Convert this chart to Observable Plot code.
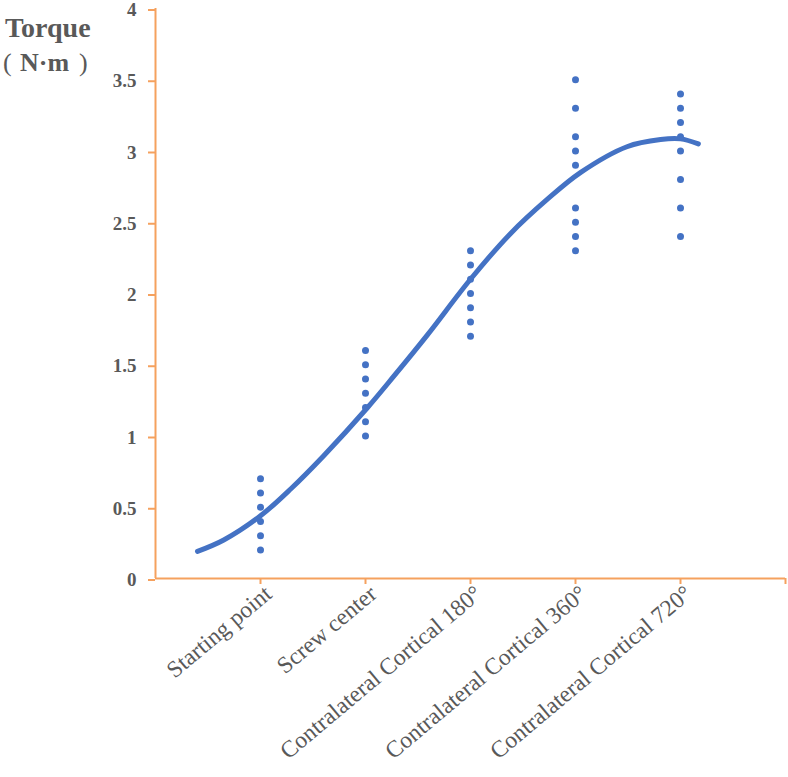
<!DOCTYPE html>
<html>
<head>
<meta charset="utf-8">
<script src="https://cdn.jsdelivr.net/npm/d3@7"></script>
<script src="https://cdn.jsdelivr.net/npm/@observablehq/plot@0.6"></script>
<style>
  html, body { margin: 0; padding: 0; background: #fff; }
  #chart { width: 788px; height: 777px; }
</style>
</head>
<body>
<div id="chart"></div>
<script>
// Insertion stages along the x axis (positions 1..5)
const categories = [
  "Starting point",
  "Screw center",
  "Contralateral Cortical 180°",
  "Contralateral Cortical 360°",
  "Contralateral Cortical 720°"
];

// Measured torque (N·m) at each stage
const torqueStarting = [0.7, 0.6, 0.5, 0.4, 0.3, 0.2];
const torqueScrewCenter = [1.6, 1.5, 1.4, 1.3, 1.2, 1.1, 1.0];
const torque180 = [2.3, 2.2, 2.1, 2.0, 1.9, 1.8, 1.7];
const torque360 = [3.5, 3.3, 3.1, 3.0, 2.9, 2.6, 2.5, 2.4, 2.3];
const torque720 = [3.4, 3.3, 3.2, 3.1, 3.0, 2.8, 2.6, 2.4];

// Fitted trend line (position in stage units, torque)
const trendPos = [0.40, 0.65, 1.00, 1.29, 1.60, 2.02, 2.27, 2.59, 3.00, 3.38, 3.73, 4.05, 4.49, 4.81, 5.00, 5.17];
const trendTorque = [0.19, 0.27, 0.44, 0.63, 0.86, 1.20, 1.42, 1.71, 2.10, 2.42, 2.66, 2.85, 3.03, 3.08, 3.085, 3.05];

// Y axis ticks
const yTicks = [0, 0.5, 1, 1.5, 2, 2.5, 3, 3.5, 4];
// X axis tick positions (one per stage plus the right end)
const xTicks = [1, 2, 3, 4, 5, 6];

const series = [torqueStarting, torqueScrewCenter, torque180, torque360, torque720];
const points = series.flatMap((vals, i) => vals.map(v => ({pos: i + 1, torque: v})));
const trend = trendPos.map((p, i) => ({pos: p, torque: trendTorque[i]}));

const blue = "#4472c4";
const orange = "#f5a15e";
const gray = "#595959";
const serif = "'Liberation Serif', 'Times New Roman', serif";

const chart = Plot.plot({
  width: 788,
  height: 777,
  marginLeft: 155,
  marginRight: 3,
  marginTop: 8,
  marginBottom: 199,
  style: {background: "#fff", fontFamily: serif},
  x: {domain: [0, 6]},
  y: {domain: [0, 4]},
  marks: [
    Plot.axisY({
      ticks: yTicks,
      tickFormat: d => String(d),
      tickSize: 7,
      tickPadding: 12,
      dy: 1.5,
      stroke: orange,
      strokeWidth: 2,
      strokeOpacity: 1,
      fill: gray,
      fontSize: 19,
      fontWeight: "bold",
      label: null
    }),
    // tick marks only
    Plot.axisX({
      ticks: xTicks,
      tickFormat: () => "",
      tickSize: 6,
      stroke: orange,
      strokeWidth: 2,
      strokeOpacity: 1,
      label: null
    }),
    // rotated stage labels
    Plot.axisX({
      ticks: xTicks,
      tickFormat: d => categories[d - 1] ?? "",
      tickSize: 0,
      tickPadding: 12,
      tickRotate: -40,
      dx: 8,
      dy: 0,
      fill: gray,
      fontSize: 23.5,
      label: null
    }),
    Plot.ruleX([0], {stroke: orange, strokeWidth: 2}),
    Plot.ruleY([0], {stroke: orange, strokeWidth: 2}),
    Plot.line(trend, {x: "pos", y: "torque", stroke: blue, strokeWidth: 5, curve: "catmull-rom"}),
    Plot.dot(points, {x: "pos", y: "torque", r: 3.5, fill: blue, stroke: null})
  ]
});

document.getElementById("chart").appendChild(chart);

// Y axis title in the top-left corner
const svg = d3.select(chart);
const title = svg.append("g")
  .attr("fill", gray)
  .attr("font-family", serif)
  .attr("text-anchor", "start");
title.append("text")
  .attr("x", 5).attr("y", 37)
  .attr("font-weight", "bold")
  .attr("font-size", 28)
  .text("Torque");
title.append("text")
  .attr("x", 3).attr("y", 71)
  .attr("font-size", 26)
  .text("(");
title.append("text")
  .attr("x", 20).attr("y", 71)
  .attr("font-weight", "bold")
  .attr("font-size", 26)
  .text("N·m");
title.append("text")
  .attr("x", 79).attr("y", 71)
  .attr("font-size", 26)
  .text(")");
</script>
</body>
</html>
